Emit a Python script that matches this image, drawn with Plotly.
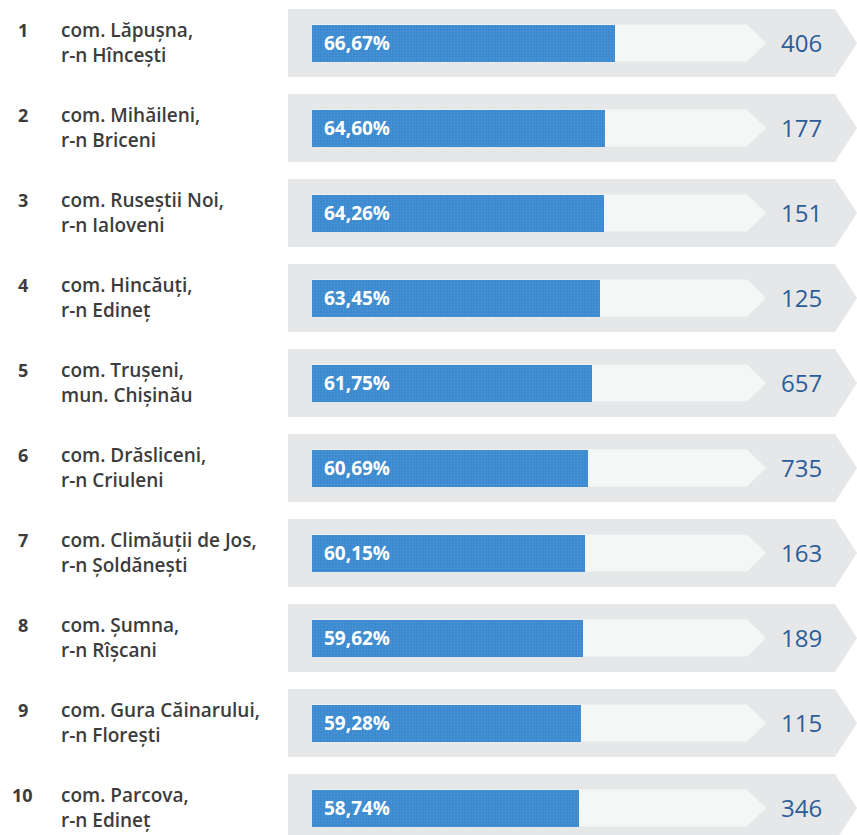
import plotly.graph_objects as go

# Ranking data
ranks = ["1", "2", "3", "4", "5", "6", "7", "8", "9", "10"]
communes = [
    "com. Lăpușna,", "com. Mihăileni,", "com. Ruseștii Noi,", "com. Hincăuți,",
    "com. Trușeni,", "com. Drăsliceni,", "com. Climăuții de Jos,", "com. Șumna,",
    "com. Gura Căinarului,", "com. Parcova,",
]
districts = [
    "r-n Hîncești", "r-n Briceni", "r-n Ialoveni", "r-n Edineț", "mun. Chișinău",
    "r-n Criuleni", "r-n Șoldănești", "r-n Rîșcani", "r-n Florești", "r-n Edineț",
]
shares = [66.67, 64.60, 64.26, 63.45, 61.75, 60.69, 60.15, 59.62, 59.28, 58.74]
counts = [406, 177, 151, 125, 657, 735, 163, 189, 115, 346]

W, H = 857, 835
ZERO_PX = 312.0        # pixel where the percentage scale starts
PX_PER_PCT = 4.54      # pixels per percentage point
ROW_TOP = 43.0
ROW_STEP = 85.0


def px(p):
    """Convert a horizontal pixel offset to the percentage scale."""
    return (p - ZERO_PX) / PX_PER_PCT


row_y = [ROW_TOP + ROW_STEP * i for i in range(len(shares))]

GREY = "#e6e7e9"
TRACK = "#f5f7f7"
BLUE = "#3a89cf"
DOT = "#5d9fdb"
TEXT = "#3c3c3c"
COUNT = "#2c5d98"
FONT = "Open Sans"

fig = go.Figure()

fig.add_trace(go.Bar(
    x=shares, y=row_y, orientation="h", width=37, base=0,
    marker=dict(color=BLUE, line=dict(width=0),
                pattern=dict(shape=".", fgcolor=DOT, bgcolor=BLUE, size=3, solidity=0.3)),
    hoverinfo="skip", showlegend=False,
))

shapes = []
annotations = []
for i, y in enumerate(row_y):
    # outer grey arrow band
    b0, b1, bt = px(288), px(835), px(857)
    shapes.append(dict(
        type="path", layer="below", line=dict(width=0), fillcolor=GREY,
        path=f"M {b0},{y-34} L {b1},{y-34} L {bt},{y} L {b1},{y+34} L {b0},{y+34} Z",
    ))
    # light 100% track with arrow tip
    t1 = 100 - (767 - 748) / PX_PER_PCT
    shapes.append(dict(
        type="path", layer="below", line=dict(width=0), fillcolor=TRACK,
        path=f"M 0,{y-18.5} L {t1},{y-18.5} L 100,{y} L {t1},{y+18.5} L 0,{y+18.5} Z",
    ))
    annotations.append(dict(
        x=22.5 / W, xref="paper", y=y - 13, yref="y", text=ranks[i],
        showarrow=False, xanchor="center", yanchor="middle",
        font=dict(family=FONT, size=18, color=TEXT, weight=700),
    ))
    annotations.append(dict(
        x=59 / W, xref="paper", y=y - 13, yref="y", text=communes[i],
        showarrow=False, xanchor="left", yanchor="middle",
        font=dict(family=FONT, size=19, color=TEXT, weight=600),
    ))
    annotations.append(dict(
        x=59 / W, xref="paper", y=y + 12, yref="y", text=districts[i],
        showarrow=False, xanchor="left", yanchor="middle",
        font=dict(family=FONT, size=19, color=TEXT, weight=600),
    ))
    annotations.append(dict(
        x=px(357), y=y, text=f"{shares[i]:.2f}%".replace(".", ","),
        showarrow=False, xanchor="center", yanchor="middle",
        font=dict(family=FONT, size=19, color="white", weight=700),
    ))
    annotations.append(dict(
        x=px(801), y=y - 1, text=str(counts[i]),
        showarrow=False, xanchor="center", yanchor="middle",
        font=dict(family=FONT, size=24, color=COUNT),
    ))

fig.update_layout(
    width=W, height=H, margin=dict(l=0, r=0, t=0, b=0),
    paper_bgcolor="white", plot_bgcolor="white",
    xaxis=dict(range=[px(0), px(W)], visible=False, fixedrange=True),
    yaxis=dict(range=[H, 0], visible=False, fixedrange=True),
    shapes=shapes, annotations=annotations, bargap=0,
)

fig.write_html("out.html")
